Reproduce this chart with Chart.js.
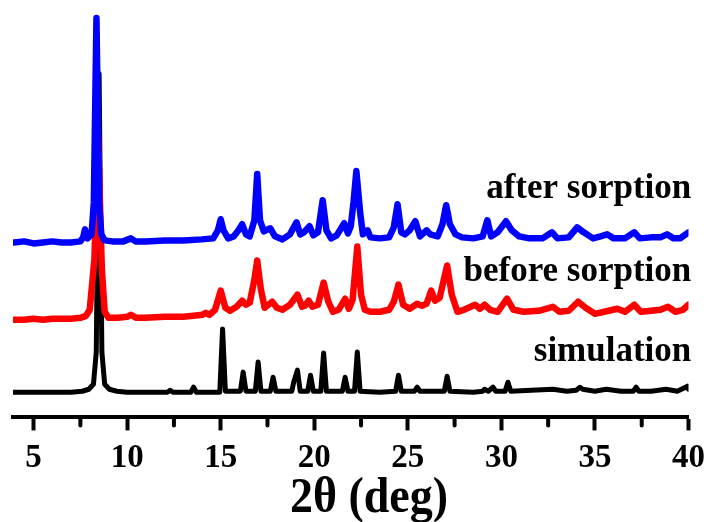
<!DOCTYPE html>
<html>
<head>
<meta charset="utf-8">
<script src="https://cdn.jsdelivr.net/npm/chart.js@4"></script>
<style>
  html, body { margin: 0; padding: 0; background: #fff; }
  #wrap { width: 713px; height: 522px; }
</style>
</head>
<body>
<div id="wrap"><canvas id="xrd"></canvas></div>
<script>
// ===== DATA (2θ in deg, intensity above each pattern's own baseline) =====
const seriesNames = ['after sorption', 'before sorption', 'simulation'];
const seriesColors = ['#0000ff', '#ff0000', '#000000'];
const seriesOffsets = [174, 97, 25];

const afterTheta = [3.95, 4.5, 5, 5.5, 6, 6.5, 7, 7.5, 7.65, 7.75, 7.88, 8.1, 8.22, 8.36, 8.5, 8.62, 8.8, 9.2, 9.8, 10.2, 10.45, 11, 12, 13, 14, 14.6, 14.85, 15.0, 15.15, 15.4, 15.7, 15.95, 16.15, 16.35, 16.55, 16.8, 16.95, 17.1, 17.3, 17.65, 17.9, 18.3, 18.7, 19.05, 19.25, 19.45, 19.75, 19.95, 20.2, 20.45, 20.65, 20.9, 21.2, 21.6, 21.8, 21.95, 22.1, 22.25, 22.45, 22.6, 22.85, 23.0, 23.5, 24.0, 24.25, 24.45, 24.65, 24.85, 25.1, 25.4, 25.65, 26.0, 26.2, 26.6, 26.85, 27.05, 27.25, 27.55, 27.9, 28.5, 29.0, 29.25, 29.45, 29.8, 30.25, 30.55, 30.95, 31.5, 32.2, 32.7, 33.0, 33.6, 34.05, 34.4, 34.9, 35.3, 35.65, 36.0, 36.6, 37.1, 37.4, 38.0, 38.5, 38.85, 39.2, 39.55, 39.85, 40];
const afterInt = [0, 1, -1, 0, 1, 0, 0, 1, 5, 13, 4, 8, 40, 223, 40, 8, 2, 1, 1, 4, 1, 1, 2, 2, 3, 4, 12, 23, 12, 4, 6, 12, 18, 8, 6, 22, 68, 22, 11, 14, 6, 3, 8, 20, 8, 10, 16, 7, 10, 42, 12, 4, 7, 19, 9, 16, 40, 71, 30, 8, 12, 5, 4, 5, 15, 38, 10, 8, 12, 21, 6, 12, 8, 6, 18, 37, 18, 8, 5, 4, 6, 22, 6, 10, 21, 12, 6, 4, 4, 10, 4, 5, 15, 10, 4, 6, 8, 4, 4, 10, 4, 5, 5, 8, 4, 4, 8, 10];

const beforeTheta = [3.95, 4.5, 5, 5.5, 6, 6.5, 7, 7.5, 7.8, 8.0, 8.25, 8.45, 8.65, 8.8, 9.0, 9.5, 10.0, 10.2, 10.5, 11, 12, 13, 13.55, 14.0, 14.2, 14.4, 14.7, 15.0, 15.25, 15.5, 15.85, 16.15, 16.35, 16.55, 16.8, 16.95, 17.15, 17.35, 17.55, 17.75, 18.0, 18.3, 18.7, 19.1, 19.35, 19.5, 19.7, 19.9, 20.2, 20.5, 20.75, 21.0, 21.3, 21.65, 21.85, 22.05, 22.3, 22.5, 22.7, 23.0, 23.5, 24.0, 24.25, 24.5, 24.75, 25.1, 25.5, 25.75, 26.0, 26.25, 26.45, 26.7, 27.1, 27.35, 27.65, 28.0, 28.6, 28.85, 29.1, 29.4, 29.8, 30.3, 30.65, 31.2, 32.0, 32.75, 33.1, 33.6, 34.1, 34.5, 35.0, 35.5, 36.2, 36.6, 37.1, 37.45, 38.0, 38.5, 38.9, 39.3, 39.7, 40];
const beforeInt = [0, 0, 1, 0, 1, 1, 1, 2, 4, 10, 60, 181, 50, 8, 2, 2, 3, 5, 2, 2, 3, 3, 4, 5, 7, 5, 10, 29, 12, 9, 13, 19, 15, 17, 40, 59, 30, 12, 15, 18, 12, 10, 15, 25, 13, 14, 19, 13, 15, 37, 18, 8, 10, 21, 11, 20, 73, 25, 10, 8, 8, 10, 18, 35, 15, 11, 16, 14, 16, 29, 19, 22, 54, 25, 8, 10, 15, 11, 15, 10, 8, 21, 10, 8, 9, 13, 8, 9, 18, 12, 6, 8, 11, 8, 15, 8, 9, 10, 13, 8, 10, 15];

const simTheta = [3.95, 5, 6, 7, 7.6, 7.95, 8.2, 8.35, 8.5, 8.65, 8.8, 9.05, 9.45, 10, 11, 12.15, 12.3, 12.45, 13.4, 13.55, 13.7, 14.95, 15.1, 15.25, 16.05, 16.2, 16.35, 16.85, 17.0, 17.15, 17.65, 17.8, 17.95, 18.8, 18.9, 19.1, 19.25, 19.65, 19.8, 19.95, 20.35, 20.5, 20.65, 21.5, 21.65, 21.8, 22.15, 22.3, 22.45, 23.5, 24.35, 24.5, 24.65, 25.35, 25.5, 25.65, 26.95, 27.1, 27.25, 28.5, 29.0, 29.1, 29.3, 29.55, 29.7, 30.2, 30.35, 30.5, 31.6, 32.75, 33.5, 34.0, 34.2, 34.35, 35.0, 35.6, 36.4, 37.05, 37.2, 37.35, 38.0, 38.8, 39.4, 39.95, 40];
const simInt = [0, 0, 0, 0, 1, 3, 8, 40, 317, 40, 8, 3, 1, 0, 0, 0, 2, 0, 0, 5, 0, 0, 63, 1, 1, 20, 1, 1, 30, 1, 1, 15, 1, 1, 10, 22, 1, 1, 17, 1, 1, 39, 1, 1, 15, 1, 1, 40, 1, 0, 1, 17, 1, 1, 5, 1, 1, 16, 1, 0, 1, 3, 1, 5, 1, 1, 10, 1, 2, 3, 1, 2, 5, 3, 1, 3, 1, 1, 5, 1, 1, 3, 1, 6, 3];

const tickValues = [5, 10, 15, 20, 25, 30, 35, 40];
const minorTickValues = [7.5, 12.5, 17.5, 22.5, 27.5, 32.5, 37.5];
const xTitle = '2θ (deg)';

// ===== BUILD =====
const thetas = [afterTheta, beforeTheta, simTheta];
const ints = [afterInt, beforeInt, simInt];
const lineWidths = [6.5, 6.5, 5];

const datasets = seriesNames.map((name, i) => ({
  label: name,
  data: thetas[i].map((t, k) => ({ x: t, y: ints[i][k] + seriesOffsets[i] })),
  borderColor: seriesColors[i],
  borderWidth: lineWidths[i],
  pointRadius: 0,
  tension: 0,
  borderJoinStyle: 'round',
  borderCapStyle: 'round',
  fill: false,
}));

const SERIF = '"Liberation Serif", "Times New Roman", serif';

// series labels + minor ticks + axis title
const xrdDecor = {
  id: 'xrdDecor',
  afterDraw(chart) {
    const { ctx, scales: { x, y } } = chart;
    ctx.save();

    // minor ticks
    ctx.strokeStyle = '#000';
    ctx.lineWidth = 4;
    ctx.lineCap = 'round';
    minorTickValues.forEach(v => {
      const px = x.getPixelForValue(v);
      ctx.beginPath();
      ctx.moveTo(px, x.top);
      ctx.lineTo(px, x.top + 8);
      ctx.stroke();
    });

    // pattern labels, right aligned near the end of each trace
    const labelY = [218, 136, 56];
    ctx.fillStyle = '#000';
    ctx.font = 'bold 35px ' + SERIF;
    ctx.textAlign = 'right';
    ctx.textBaseline = 'alphabetic';
    seriesNames.forEach((name, i) => {
      ctx.fillText(name, x.getPixelForValue(40.15), y.getPixelForValue(labelY[i]));
    });

    // x axis title
    ctx.font = 'bold 50px ' + SERIF;
    ctx.textAlign = 'center';
    ctx.translate(369, 512);
    ctx.scale(0.92, 1);
    ctx.fillText(xTitle, 0, 0);
    ctx.restore();
  }
};

new Chart(document.getElementById('xrd'), {
  type: 'line',
  data: { datasets },
  options: {
    responsive: true,
    maintainAspectRatio: false,
    animation: false,
    layout: { padding: { left: 13, right: 24, top: 0, bottom: 36 } },
    plugins: { legend: { display: false }, tooltip: { enabled: false } },
    scales: {
      x: {
        type: 'linear',
        min: 3.9,
        max: 40,
        afterBuildTicks: s => { s.ticks = tickValues.map(v => ({ value: v })); },
        border: { display: true, color: '#000', width: 4 },
        grid: { drawOnChartArea: false, drawTicks: true, tickLength: 13, tickWidth: 4, tickColor: '#000' },
        ticks: { color: '#000', padding: 8, font: { family: SERIF, size: 33, weight: 'bold' } }
      },
      y: { display: false, min: 0, max: 415 }
    }
  },
  plugins: [xrdDecor]
});
</script>
</body>
</html>
